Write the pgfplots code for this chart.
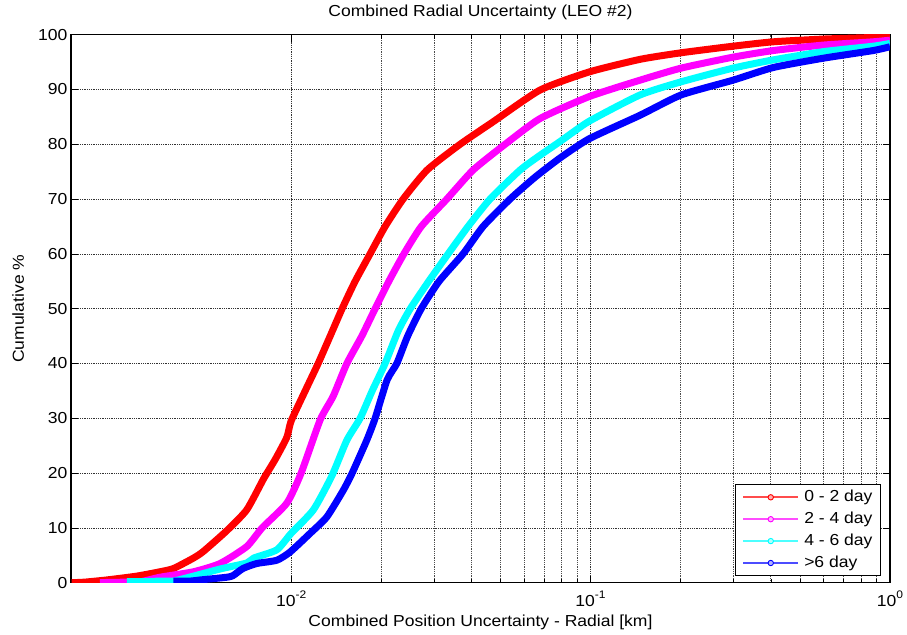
\documentclass[border=0pt]{standalone}
\usepackage{fontspec}
\setmainfont{Liberation Sans}[FakeStretch=1.1]
\usepackage{pgfplots}
\pgfplotsset{compat=1.18}
\usepackage{pgfplotstable}
\definecolor{cRed}{RGB}{255,0,0}
\definecolor{cMag}{RGB}{255,0,255}
\definecolor{cCya}{RGB}{0,255,255}
\definecolor{cBlu}{RGB}{0,0,255}

\pgfplotsset{
  myleg/.style={legend image code/.code={
    \path[draw=none, fill=#1!70] (0bp,-1bp) rectangle (55bp,1bp);
    \path[draw=#1, fill=#1!30, line width=0.9bp] (27.5bp,0bp) circle (2.7bp);}},
  curve/.style={draw=#1, line width=7bp, line join=round, smooth, tension=0.35, myleg=#1},
}

\pgfplotstableread{
x y
0.00185 0
0.00204 0.1
0.00242 0.5
0.00305 1.2
0.00365 2.0
0.00405 2.6
0.00472 4.5
0.00509 5.7
0.0061 9.5
0.00711 13.3
0.0081 19
0.00885 22.5
0.00967 26.5
0.0100 29.5
0.01114 35
0.01231 40
0.0135 45
0.0148 50
0.01636 55
0.01835 60
0.0206 65
0.02366 70
0.02845 75.3
0.03667 80
0.04725 84.1
0.06783 89.9
0.0989 93.2
0.1463 95.5
0.2006 96.7
0.2991 97.9
0.4068 98.7
0.5974 99.2
0.8774 99.5
1.0 99.8
}\redtab

\pgfplotstableread{
x y
0.00230 0
0.00245 0.05
0.00283 0.1
0.00313 0.15
0.00365 1.0
0.00472 2.0
0.00579 3.5
0.00711 6.6
0.0080 10
0.00967 14.5
0.0108 20
0.0125 29.7
0.01381 34
0.01535 40
0.01722 45
0.01908 50
0.0212 55
0.0238 60
0.0272 65
0.03311 70
0.04052 75.3
0.05183 80
0.06783 84.7
0.0989 88.7
0.1463 91.7
0.2006 93.9
0.2991 95.9
0.4068 97.1
0.5974 98.1
0.8774 98.7
1.0 99.0
}\magtab

\pgfplotstableread{
x y
0.00283 0.2
0.0033 0.2
0.00365 0.3
0.00404 0.3
0.00472 1.2
0.00579 2.5
0.00711 3.6
0.0075 4.5
0.00896 6
0.0100 9
0.01187 13.3
0.01368 19.5
0.01535 26
0.0170 30
0.01865 35
0.0206 40
0.0228 46
0.0250 50
0.0288 55
0.03344 60
0.03899 65
0.04617 70
0.05816 75.3
0.06783 78
0.07909 80.5
0.0989 84.2
0.1463 89.0
0.2006 91.4
0.2991 93.9
0.4068 95.4
0.5974 96.9
0.8774 97.9
1.0 98.4
}\cyatab

\pgfplotstableread{
x y
0.00404 0.3
0.0046 0.3
0.00497 0.5
0.0061 1.0
0.0064 1.3
0.00691 2.6
0.00768 3.5
0.00896 4.1
0.00992 5.6
0.01157 9
0.01316 12
0.01495 16.9
0.01599 20
0.01789 26
0.01908 30
0.02092 37
0.02254 40
0.0245 45
0.0272 50
0.0312 55
0.03752 60
0.04376 65
0.05385 70
0.06527 74
0.07909 77.5
0.0989 81
0.1463 85.3
0.2006 89.0
0.2991 91.7
0.4068 94.0
0.5974 95.7
0.8774 97.1
1.0 97.8
}\blutab

\begin{document}
\begin{tikzpicture}
\begin{axis}[
  scale only axis, width=819bp, height=548bp,
  xmode=log, xmin=0.00184, xmax=1, ymin=0, ymax=100,
  xtick={0.01,0.1,1},
  xticklabels={10\raisebox{8.5bp}{\fontsize{11}{11}\selectfont -2},
               10\raisebox{8.5bp}{\fontsize{11}{11}\selectfont -1},
               10\raisebox{8.5bp}{\fontsize{11}{11}\selectfont 0}},
  xticklabel style={anchor=base, yshift=-24bp},
  ytick={0,10,...,100},
  xmajorgrids, xminorgrids, ymajorgrids,
  major grid style={black!80, line width=0.7bp, dash pattern=on 1bp off 0.8bp},
  minor grid style={black!70, line width=0.7bp, dash pattern=on 1bp off 0.8bp},
  tick align=inside, xtick pos=both, ytick pos=both,
  major tick length=7bp, minor tick length=4bp,
  every tick/.style={black, line width=0.6bp},
  axis line style={line width=1.2bp},
  font=\fontsize{16}{19}\selectfont,
  /pgf/number format/assume math mode=true,
  title={Combined Radial Uncertainty (LEO \#2)},
  title style={at={(axis description cs:0.5,1.0219)}, anchor=base, inner sep=0pt},
  xlabel={Combined Position Uncertainty - Radial [km]},
  xlabel style={at={(axis description cs:0.5,-0.0794)}, anchor=base, inner sep=0pt},
  ylabel={Cumulative \%},
  ylabel style={at={(axis description cs:-0.0574,0.5)}, anchor=base, inner sep=0pt},
  legend cell align=left,
  legend style={at={(axis description cs:0.989,0.0122)}, anchor=south east,
    draw=black, line width=1bp, fill=white,
    inner xsep=8bp, inner ysep=4.5bp, row sep=5.9bp, column sep=6bp,
    nodes={inner sep=0pt, text height=12bp, text depth=4bp}},
]
\addplot[curve=cRed] table {\redtab};
\addlegendentry{0 - 2 day}
\addplot[curve=cMag] table {\magtab};
\addlegendentry{2 - 4 day}
\addplot[curve=cCya] table {\cyatab};
\addlegendentry{4 - 6 day}
\addplot[curve=cBlu] table {\blutab};
\addlegendentry{>6 day}
\end{axis}
\pgfresetboundingbox
\path[use as bounding box] ([xshift=-71bp,yshift=-52.3bp]current axis.south west) rectangle ([xshift=17bp,yshift=34.7bp]current axis.north east);
\end{tikzpicture}
\end{document}
